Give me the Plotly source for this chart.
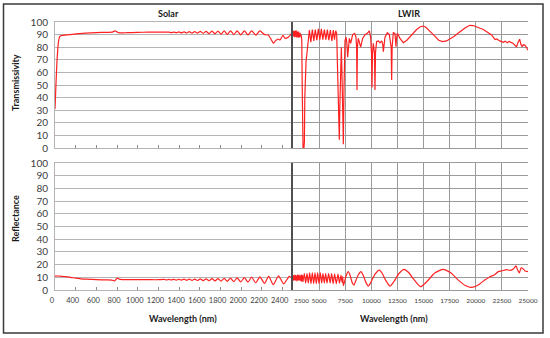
import plotly.graph_objects as go

W, H = 550, 338

# ---------------- data ----------------
solar_wl_T = [200, 210, 220, 232, 245, 260, 300, 400, 500, 600, 700, 750, 780, 810, 850, 900, 1000, 1100, 1200, 1300,
              1325, 1350, 1372, 1397, 1422, 1447, 1472, 1498, 1524, 1550,
              1577, 1604, 1632, 1660, 1688, 1717, 1746, 1775, 1805, 1835,
              1865, 1896, 1928, 1960, 1995, 2030, 2065, 2100, 2140, 2180,
              2225, 2260, 2290, 2310, 2330, 2355, 2375, 2403, 2423, 2452,
              2475, 2490, 2500]
solar_T = [31, 52, 70, 83, 88.5, 89.2, 89.6, 90.6, 91.2, 91.6, 91.8, 91.9, 92.9, 91.6, 91.3, 91.6, 91.8, 91.9, 91.9, 91.9,
           91.6, 92.0, 91.5, 92.1, 91.4, 92.2, 91.3, 92.3, 91.2, 92.4,
           91.1, 92.5, 91.0, 92.6, 90.8, 92.7, 90.6, 92.8, 90.4, 92.9,
           90.2, 93.0, 90.0, 93.0, 89.8, 93.0, 89.7, 93.0, 89.6, 92.9,
           90.0, 89.7, 86.0, 83.2, 85.0, 86.5, 85.8, 89.5, 87.0, 87.8,
           89.5, 91.5, 92.0]

solar_wl_R = [200, 250, 300, 350, 400, 450, 500, 600, 700, 750, 775, 790, 805, 820, 850, 900, 1000, 1100, 1200,
              1255, 1278, 1300, 1324, 1348, 1372, 1397, 1422, 1447, 1472,
              1498, 1524, 1550, 1577, 1604, 1632, 1660, 1688, 1717, 1746,
              1775, 1805, 1835, 1865, 1896, 1928, 1960, 1995, 2030, 2065,
              2100, 2140, 2180, 2225, 2265, 2310, 2360, 2410, 2465, 2500]
solar_R = [11.0, 11.0, 10.5, 10.0, 9.3, 8.8, 8.5, 8.1, 8.0, 7.8, 7.2, 8.5, 9.3, 8.6, 8.2, 8.1, 8.1, 8.1, 8.1,
           8.3, 7.9, 8.3, 7.9, 8.4, 7.8, 8.4, 7.8, 8.5, 7.7,
           8.5, 7.6, 8.6, 7.5, 8.7, 7.4, 8.8, 7.3, 8.9, 7.2,
           9.0, 7.0, 9.2, 6.8, 9.4, 6.6, 9.6, 6.4, 9.8, 6.1,
           10.1, 5.7, 10.4, 5.2, 10.8, 4.2, 11.2, 4.8, 10.8, 8.5]

lwir_wl_T = [2500, 2530, 2560, 2590, 2620, 2650, 2680, 2710, 2740, 2770, 2800, 2830, 2860,
             2890, 2920, 2950, 2980, 3010, 3040, 3070, 3100, 3140, 3180, 3220, 3260, 3300,
             3340, 3380, 3420, 3460, 3550, 3590, 3630, 3690, 3750, 3820, 3900, 3968,
             4064, 4207, 4351, 4494, 4638, 4781, 4925, 5069, 5212, 5356,
             5500, 5643, 5787, 5930, 6074, 6218, 6361, 6473, 6585, 6680,
             6780, 6870, 6935, 6990, 7060, 7130, 7200, 7270, 7320, 7380,
             7478, 7574, 7650, 7733, 7810, 7893, 8021, 8212, 8404, 8531,
             8590, 8627, 8665, 8755, 8978, 9169, 9393, 9616, 9808, 9935,
             10020, 10063, 10110, 10191, 10300, 10350, 10400, 10510, 10670, 10829,
             10989, 11100, 11148, 11200, 11308, 11531, 11723, 11900, 11946, 11990,
             12106, 12265, 12330, 12361, 12400, 12489, 12744, 13060, 13400, 13700,
             14000, 14340, 14650, 14910, 15200, 15460, 15800, 16100, 16450, 16830,
             17200, 17530, 17900, 18330, 18650, 18970, 19200, 19450, 19750, 20090,
             20400, 20720, 21050, 21360, 21520, 21840, 22000, 22300, 22630, 22800,
             23000, 23200, 23400, 23590, 23750, 23910, 24050, 24200, 24330, 24450,
             24550, 24700, 24850, 25000]
lwir_T = [91.5, 88.5, 93.0, 89.0, 92.5, 88.0, 93.0, 88.5, 92.0, 89.5, 93.5, 88.0, 92.0,
          89.0, 92.5, 88.0, 91.5, 88.5, 92.5, 87.5, 91.0, 88.0, 91.5, 88.5, 90.0, 88.5,
          86.0, 50.0, 5.0, 0.3, 0.3, 5.0, 40.0, 62.0, 69.0, 74.0, 79.0, 83.0,
          93.5, 84.0, 94.0, 85.0, 94.0, 85.5, 94.5, 86.0, 94.5, 86.0,
          94.0, 86.0, 94.0, 85.5, 93.5, 85.0, 93.5, 86.0, 93.0, 91.0,
          55.0, 12.0, 6.5, 35.0, 72.0, 80.0, 55.0, 8.0, 3.0, 45.0,
          85.0, 88.0, 84.0, 72.0, 82.0, 87.0, 83.0, 90.0, 91.0, 88.0,
          80.0, 46.0, 80.0, 87.0, 80.0, 87.0, 90.0, 91.0, 93.0, 88.0,
          75.0, 48.0, 75.0, 83.0, 75.0, 46.0, 76.0, 84.5, 85.0, 83.5,
          85.0, 82.0, 76.5, 82.0, 88.0, 91.5, 90.0, 80.0, 54.0, 80.0,
          91.5, 91.0, 86.0, 80.4, 86.0, 91.0, 87.0, 83.6, 85.5, 88.4,
          91.5, 94.0, 96.0, 96.8, 96.0, 94.0, 91.0, 88.6, 85.5, 84.4,
          85.0, 86.5, 88.5, 91.3, 93.5, 95.2, 96.5, 97.4, 97.2, 96.3,
          95.0, 94.0, 92.0, 90.0, 89.7, 86.0, 86.5, 85.0, 83.9, 84.8,
          83.5, 84.5, 84.0, 83.0, 81.5, 80.4, 84.0, 86.3, 82.0, 80.4,
          82.0, 81.7, 80.0, 77.5]

lwir_wl_R = [2500, 2530, 2560, 2600, 2640, 2680, 2720, 2760, 2800, 2840, 2880, 2920, 2960,
             3000, 3040, 3080, 3120, 3160, 3200, 3240, 3280, 3320, 3360, 3400, 3450,
             3585, 3712, 3840, 3968, 4095, 4223, 4351, 4478, 4606, 4734,
             4861, 4989, 5117, 5244, 5372, 5500, 5627, 5755, 5914, 6058,
             6201, 6345, 6488, 6648, 6808, 6951, 7095, 7200, 7260, 7320,
             7450, 7600, 7797, 7990, 8160, 8340, 8520, 8760, 9010, 9250,
             9480, 9712, 9980, 10350, 10765, 11050, 11350, 11786, 12150, 12650,
             13127, 13550, 14050, 14722, 15300, 16100, 16893, 17600, 18300, 19000,
             19510, 20000, 20404, 20900, 21361, 21800, 22159, 22480, 22957, 23300,
             23595, 23850, 24000, 24170, 24350, 24489, 24712, 25000]
lwir_R = [8.5, 11.5, 7.5, 11.0, 8.0, 12.0, 7.5, 11.5, 8.0, 11.0, 7.0, 12.0, 8.0,
          11.5, 7.5, 12.0, 8.0, 11.0, 7.5, 11.5, 7.0, 12.0, 7.0, 11.5, 6.5,
          13.0, 5.5, 13.0, 5.5, 13.5, 5.0, 13.5, 5.0, 13.5, 5.0,
          13.5, 5.0, 13.5, 5.5, 13.0, 5.5, 13.0, 5.5, 13.0, 5.5,
          13.0, 5.0, 12.5, 5.0, 12.5, 5.5, 11.5, 6.0, 10.5, 3.5,
          7.0, 11.5, 14.4, 11.0, 6.0, 3.9, 7.5, 12.0, 14.4, 11.0,
          6.0, 3.1, 6.5, 12.5, 15.7, 13.0, 8.0, 3.1, 6.5, 13.0,
          16.3, 14.0, 8.5, 2.6, 6.5, 13.5, 16.3, 13.5, 8.0, 3.5,
          2.1, 3.0, 5.0, 8.0, 10.5, 12.0, 14.5, 15.0, 16.0, 15.5,
          16.5, 19.0, 16.0, 13.5, 17.5, 17.0, 15.0, 14.5]

solar_tick_vals = [200, 400, 600, 800, 1000, 1200, 1400, 1600, 1800, 2000, 2200, 2400]
solar_tick_text = ["0", "400", "600", "800", "1000", "1200", "1400", "1600", "1800", "2000", "2200", "2400"]
lwir_tick_vals = [2500, 5000, 7500, 10000, 12500, 15000, 17500, 20000, 22500, 25000]
lwir_tick_text = ["2500", "5000", "7500", "10000", "12500", "15000", "17500", "20000", "22500", "25000"]
y_tick_vals = [0, 10, 20, 30, 40, 50, 60, 70, 80, 90, 100]

panel_titles = ["Solar", "LWIR"]
y_titles = ["Transmissivity", "Reflectance"]
x_title = "Wavelength (nm)"

# ---------------- styling / layout ----------------
RED = "#ff2121"
LGRID = "#b4b4b4"
DGRID = "#9a9a9a"
DIV = "#505050"
TXT = "#404040"
FONT = "Lato"


def hx(p):
    return p / W


def vy(p):
    return 1 - p / H


xL = [hx(55), hx(293)]
xR = [hx(293), hx(528)]
yT = [vy(148), vy(22)]
yB = [vy(290), vy(163)]

fig = go.Figure()
line_lin = dict(color=RED, width=1.2)
line_spl = dict(color=RED, width=1.2, shape="spline", smoothing=0.6)
fig.add_trace(go.Scatter(x=solar_wl_T, y=solar_T, mode="lines", line=line_spl, xaxis="x", yaxis="y"))
fig.add_trace(go.Scatter(x=lwir_wl_T, y=lwir_T, mode="lines", line=line_lin, xaxis="x2", yaxis="y2"))
fig.add_trace(go.Scatter(x=solar_wl_R, y=solar_R, mode="lines", line=line_spl, xaxis="x3", yaxis="y3"))
fig.add_trace(go.Scatter(x=lwir_wl_R, y=lwir_R, mode="lines", line=line_spl, xaxis="x4", yaxis="y4"))


def left_y(domain, anchor):
    return dict(domain=domain, anchor=anchor, range=[0, 100], tickvals=y_tick_vals,
                showgrid=True, gridcolor=LGRID, gridwidth=1.3, zeroline=False,
                showline=True, linecolor=LGRID, linewidth=1, mirror=False,
                tickfont=dict(family=FONT, size=10, color=TXT), ticks="",
                ticklabelstandoff=4, automargin=False, fixedrange=True)


def right_y(domain, anchor):
    return dict(domain=domain, anchor=anchor, range=[0, 100], tickvals=y_tick_vals,
                showgrid=True, gridcolor=DGRID, gridwidth=1.3, zeroline=False,
                showline=True, linecolor=DIV, linewidth=1.6, mirror=False,
                showticklabels=False, ticks="", automargin=False, fixedrange=True)


def left_x(anchor, labels):
    return dict(domain=xL, anchor=anchor, range=[200, 2500], tickvals=solar_tick_vals,
                ticktext=solar_tick_text, showticklabels=labels, showgrid=False, zeroline=False,
                showline=True, linecolor=LGRID, linewidth=1, mirror=True,
                ticks="inside", ticklen=3, tickcolor="#8c8c8c", tickwidth=1, tickangle=0,
                tickfont=dict(family=FONT, size=7.5, color=TXT), ticklabelshift=-3,
                ticklabelstandoff=3, automargin=False, fixedrange=True)


def right_x(anchor, labels):
    # the first label ("2500") is drawn separately, nudged right of the divider as in the reference
    return dict(domain=xR, anchor=anchor, range=[2500, 25000], tickvals=lwir_tick_vals,
                ticktext=[""] + lwir_tick_text[1:], showticklabels=labels, showgrid=True, gridcolor=DGRID,
                gridwidth=1.3, zeroline=False, showline=True, linecolor=DGRID, linewidth=1.3,
                mirror=True, ticks="", tickangle=0, tickfont=dict(family=FONT, size=6.5, color=TXT),
                ticklabelstandoff=4, automargin=False, fixedrange=True)


TITLE_FONT = dict(family=FONT, size=9, color="#1a1a1a")


def note(text, px, py, font, angle=0):
    return dict(text=text, x=hx(px), y=vy(py), xref="paper", yref="paper", xanchor="center",
                yanchor="middle", showarrow=False, textangle=angle, font=font)


annotations = [
    note("<b>" + panel_titles[0] + "</b>", 168, 14, TITLE_FONT),
    note("<b>" + panel_titles[1] + "</b>", 409, 14, TITLE_FONT),
    note("<b>" + y_titles[0] + "</b>", 15, 83, TITLE_FONT, -90),
    note("<b>" + y_titles[1] + "</b>", 15, 219, TITLE_FONT, -90),
    note("<b>" + x_title + "</b>", 183, 318, TITLE_FONT),
    note("<b>" + x_title + "</b>", 394, 318, TITLE_FONT),
    note(lwir_tick_text[0], 301.5, 300, dict(family=FONT, size=6.5, color=TXT)),
]

shapes = [dict(type="rect", xref="paper", yref="paper", x0=hx(3.5), x1=hx(543), y0=vy(333), y1=vy(4),
               line=dict(color="#3a3a3a", width=1.5), fillcolor="rgba(0,0,0,0)", layer="above")]

fig.update_layout(
    width=W, height=H, autosize=False,
    margin=dict(l=0, r=0, t=0, b=0, autoexpand=False),
    paper_bgcolor="white", plot_bgcolor="white",
    showlegend=False,
    xaxis=left_x("y", False), yaxis=left_y(yT, "x"),
    xaxis2=right_x("y2", False), yaxis2=right_y(yT, "x2"),
    xaxis3=left_x("y3", True), yaxis3=left_y(yB, "x3"),
    xaxis4=right_x("y4", True), yaxis4=right_y(yB, "x4"),
    annotations=annotations, shapes=shapes,
)

# remove the browser's default 8px page margin so the 550x338 figure fills the window exactly
fig.write_html("out.html", config={"displayModeBar": False},
               post_script="document.body.style.margin='0';")
